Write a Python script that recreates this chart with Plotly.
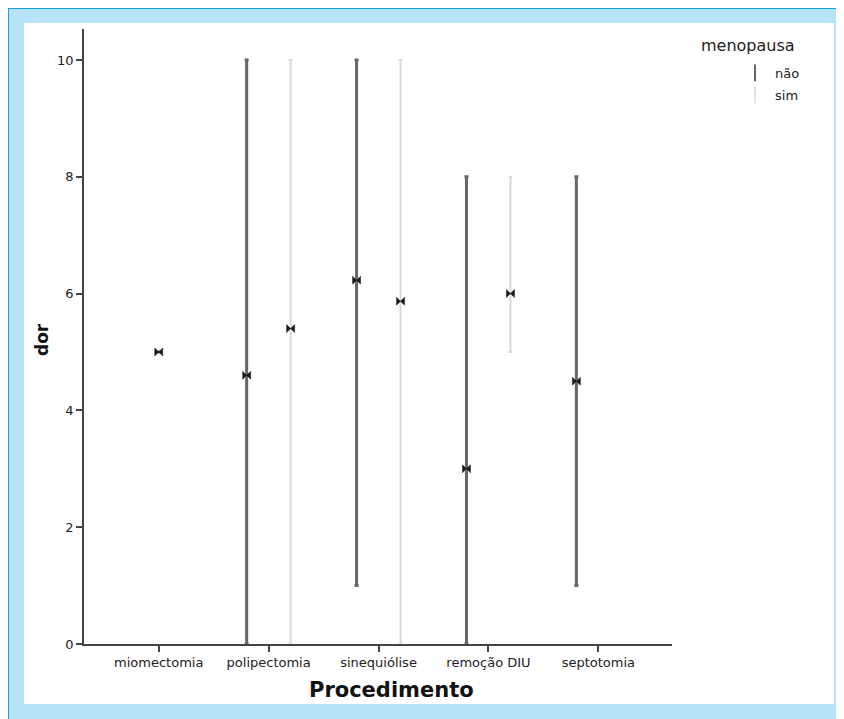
import plotly.graph_objects as go

# ---- data ----
procedimentos = ["miomectomia", "polipectomia", "sinequiólise", "remoção DIU", "septotomia"]
nao_mean = [5.0, 4.6, 6.23, 3.0, 4.5]
nao_low = [5.0, 0.0, 1.0, 0.0, 1.0]
nao_high = [5.0, 10.0, 10.0, 8.0, 8.0]
sim_mean = [None, 5.4, 5.87, 6.0, None]
sim_low = [None, 0.0, 0.0, 5.0, None]
sim_high = [None, 10.0, 10.0, 8.0, None]
y_ticks = [0, 2, 4, 6, 8, 10]

# ---- layout constants (page has an 8px body margin) ----
W, H = 844, 719
OFF = 8
SX0, SX1, SY0, SY1 = 84, 672, 29, 644  # plot area in screen pixels
L, T = SX0 - OFF, SY0 - OFF
R, B = W - (SX1 - OFF), H - (SY1 - OFF)
PW, PH = SX1 - SX0, SY1 - SY0
FONT = "DejaVu Sans, Verdana, sans-serif"
DARK = "#666666"
LIGHT = "#d9d9d9"
SHIFT = 0.2
nao_shift = [0, -SHIFT, -SHIFT, -SHIFT, -SHIFT]


def px(x):
    return (x - SX0) / PW


def py(y):
    return (SY1 - y) / PH


def series(means, lows, highs, shifts):
    xs, ys, up, dn = [], [], [], []
    for i, (m, lo, hi) in enumerate(zip(means, lows, highs)):
        if m is None:
            continue
        xs.append(i + shifts[i])
        ys.append(m)
        up.append(hi - m)
        dn.append(m - lo)
    return xs, ys, up, dn


fig = go.Figure()

for means, lows, highs, shifts, col, thick in [
    (nao_mean, nao_low, nao_high, nao_shift, DARK, 3),
    (sim_mean, sim_low, sim_high, [SHIFT] * 5, LIGHT, 2),
]:
    xs, ys, up, dn = series(means, lows, highs, shifts)
    fig.add_trace(go.Scatter(
        x=xs, y=ys, mode="markers", showlegend=False,
        marker=dict(symbol="bowtie", size=8, color="#1a1a1a",
                    line=dict(color="#1a1a1a", width=0.5)),
        error_y=dict(type="data", symmetric=False, array=up, arrayminus=dn,
                     color=col, thickness=thick, width=2),
    ))

for name, col, w in [("não", DARK, 2), ("sim", LIGHT, 1.5)]:
    fig.add_trace(go.Scatter(
        x=[None], y=[None], mode="markers", name=name, legendgroup=name,
        marker=dict(symbol="line-ns-open", size=12, color=col,
                    line=dict(color=col, width=w)),
    ))

shapes = [
    dict(type="rect", xref="paper", yref="paper", x0=px(9), x1=px(W + 20), y0=py(9), y1=py(H + 20),
         fillcolor="#b7e3f8", line=dict(width=0), layer="below"),
    dict(type="rect", xref="paper", yref="paper", x0=px(0), x1=px(W + 20), y0=py(7), y1=py(9),
         fillcolor="#14a2e6", line=dict(width=0), layer="below"),
    dict(type="rect", xref="paper", yref="paper", x0=px(7), x1=px(9), y0=py(0), y1=py(H + 20),
         fillcolor="#14a2e6", line=dict(width=0), layer="below"),
    dict(type="rect", xref="paper", yref="paper", x0=px(24), x1=px(834), y0=py(23), y1=py(704),
         fillcolor="white", line=dict(width=0), layer="below"),
]

annotations = [
    dict(text="menopausa", xref="paper", yref="paper", x=px(699), y=py(46),
         xanchor="left", yanchor="middle", showarrow=False,
         font=dict(size=16, family=FONT, color="#222")),
    dict(text="<b>Procedimento</b>", xref="paper", yref="paper", x=px(391), y=py(690),
         xanchor="center", yanchor="middle", showarrow=False,
         font=dict(size=21, family=FONT, color="#111")),
    dict(text="<b>dor</b>", xref="paper", yref="paper", x=px(42), y=py(340),
         xanchor="center", yanchor="middle", showarrow=False, textangle=-90,
         font=dict(size=17, family=FONT, color="#111")),
]

fig.update_layout(
    width=W, height=H,
    margin=dict(l=L, r=R, t=T, b=B),
    paper_bgcolor="white",
    plot_bgcolor="rgba(0,0,0,0)",
    font=dict(family=FONT, size=13, color="#222222"),
    shapes=shapes,
    annotations=annotations,
    showlegend=True,
    legend=dict(x=px(735), y=py(58), xanchor="left", yanchor="top",
                bgcolor="rgba(0,0,0,0)", font=dict(size=13, family=FONT, color="#222"),
                itemwidth=30, traceorder="grouped", tracegroupgap=2),
    xaxis=dict(range=[-0.68, 4.67], tickmode="array", tickvals=list(range(len(procedimentos))),
               ticktext=procedimentos, showgrid=False, zeroline=False,
               showline=True, linecolor="#444", linewidth=1.5,
               ticks="outside", ticklen=6, tickwidth=1.5, tickcolor="#444",
               tickfont=dict(size=13, family=FONT, color="#222")),
    yaxis=dict(range=[0, 10.53], tickmode="array", tickvals=y_ticks,
               showgrid=False, zeroline=False,
               showline=True, linecolor="#444", linewidth=1.5,
               ticks="outside", ticklen=6, tickwidth=1.5, tickcolor="#444",
               tickfont=dict(size=13, family=FONT, color="#222")),
)

fig.write_html("out.html")
